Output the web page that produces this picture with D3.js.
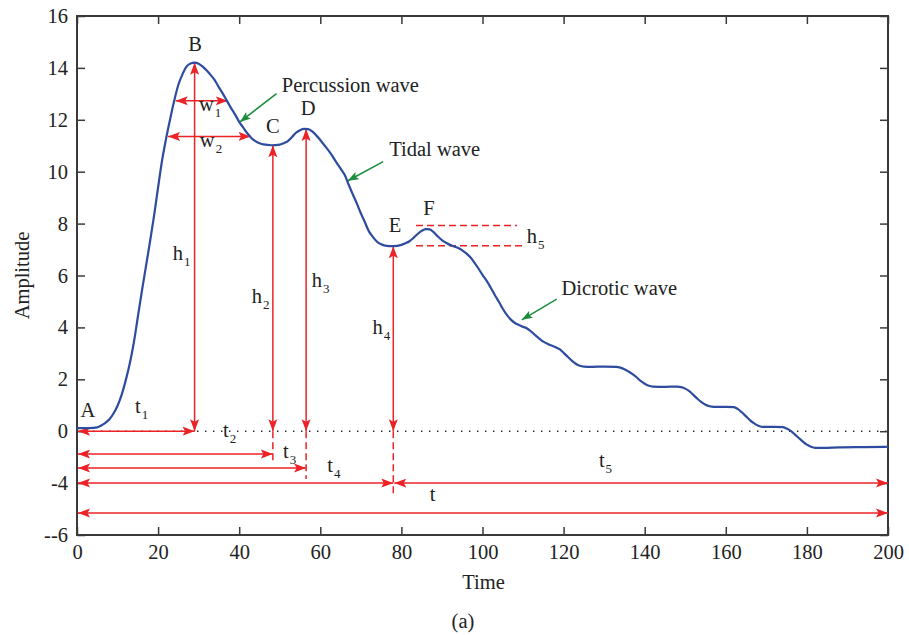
<!DOCTYPE html>
<html>
<head>
<meta charset="utf-8">
<script src="https://cdn.jsdelivr.net/npm/d3@7"></script>
<style>
  html, body { margin: 0; padding: 0; background: #fff; }
  svg { display: block; }
</style>
</head>
<body>
<svg id="chart" width="909" height="635"></svg>
<script>
// pulse wave samples
const timeValues = [0, 3, 5, 6, 7, 8, 9, 10, 11, 12, 13, 14, 15, 16, 17, 18, 19, 20, 21, 22, 23, 24, 25, 26, 27, 28, 29, 30, 31, 32, 33, 34, 35, 36, 37, 38, 39, 40, 41, 42, 43, 44, 45, 46, 48, 50, 51, 52, 53, 54, 55, 56, 57, 58, 59, 60, 61, 62, 63, 64, 65, 66, 67, 68, 69, 70, 71, 72, 73, 74, 75, 76, 78, 80, 81, 82, 83, 84, 85, 86, 87, 88, 89, 90, 91, 92, 93, 94, 95, 96, 97, 98, 99, 100, 101, 102, 103, 104, 105, 106, 107, 108, 109, 110, 111, 112, 113, 114, 115, 116, 117, 118, 119, 120, 121, 122, 123, 124, 125, 127, 130, 133, 134, 135, 136, 137, 138, 139, 140, 141, 142, 145, 148, 149, 150, 151, 152, 153, 154, 155, 156, 157, 160, 162, 163, 164, 165, 166, 167, 168, 169, 172, 174, 175, 176, 177, 178, 179, 180, 181, 182, 184, 188, 194, 200];
const amplitudeValues = [0.12, 0.12, 0.15, 0.22, 0.32, 0.46, 0.68, 0.98, 1.4, 1.95, 2.6, 3.4, 4.4, 5.4, 6.35, 7.3, 8.3, 9.4, 10.45, 11.3, 12.05, 12.75, 13.35, 13.75, 14.05, 14.17, 14.2, 14.16, 14.05, 13.9, 13.72, 13.52, 13.25, 13.0, 12.72, 12.45, 12.2, 11.92, 11.7, 11.48, 11.3, 11.18, 11.1, 11.05, 11.02, 11.04, 11.1, 11.18, 11.33, 11.5, 11.6, 11.65, 11.64, 11.55, 11.4, 11.22, 11.02, 10.82, 10.6, 10.35, 10.12, 9.88, 9.5, 9.13, 8.78, 8.4, 8.05, 7.7, 7.48, 7.3, 7.2, 7.15, 7.13, 7.18, 7.24, 7.32, 7.45, 7.6, 7.72, 7.79, 7.78, 7.66, 7.5, 7.36, 7.26, 7.18, 7.12, 7.06, 6.97, 6.85, 6.7, 6.5, 6.27, 6.02, 5.8, 5.54, 5.26, 5.0, 4.72, 4.48, 4.3, 4.17, 4.09, 4.02, 3.96, 3.84, 3.7, 3.57, 3.45, 3.37, 3.3, 3.24, 3.16, 3.02, 2.87, 2.72, 2.6, 2.52, 2.49, 2.48, 2.49, 2.48, 2.45, 2.39, 2.3, 2.2, 2.08, 1.94, 1.83, 1.75, 1.72, 1.71, 1.72, 1.7, 1.64, 1.54, 1.4, 1.25, 1.12, 1.02, 0.96, 0.94, 0.94, 0.93, 0.85, 0.72, 0.57, 0.42, 0.3, 0.21, 0.17, 0.17, 0.16, 0.1, 0.01, -0.12, -0.26, -0.4, -0.52, -0.6, -0.64, -0.64, -0.62, -0.61, -0.6];

const xTickValues = [0, 20, 40, 60, 80, 100, 120, 140, 160, 180, 200];
const yTickValues = [-4, -2, 0, 2, 4, 6, 8, 10, 12, 14, 16];
const yTickLabels = ["--6", "-4", "0", "2", "4", "6", "8", "10", "12", "14", "16"];

// feature points of the wave
const landmarks = [
  { name: "A", t: 0, a: 0.12, lx: 2.7, ly: 0.55 },
  { name: "B", t: 29, a: 14.2, lx: 29.1, ly: 14.65 },
  { name: "C", t: 48.3, a: 11.02, lx: 48.3, ly: 11.49 },
  { name: "D", t: 56.5, a: 11.65, lx: 57, ly: 12.18 },
  { name: "E", t: 78, a: 7.13, lx: 78.4, ly: 7.68 },
  { name: "F", t: 86.5, a: 7.79, lx: 86.8, ly: 8.33 }
];

// vertical height arrows (from zero up to a landmark) and their dashed drop lines
const heightArrows = [
  { t: 29, top: 14.2, drop: null },
  { t: 48.3, top: 11.02, drop: -1.23 },
  { t: 56.5, top: 11.65, drop: -1.84 },
  { t: 78, top: 7.13, drop: -2.54 }
];

// horizontal double arrows: time spans and widths
const spanArrows = [
  { t0: 0, t1: 29, a: 0 },
  { t0: 0, t1: 48.3, a: -0.88 },
  { t0: 0, t1: 56.5, a: -1.42 },
  { t0: 0, t1: 78, a: -2.0 },
  { t0: 78, t1: 200, a: -2.0 },
  { t0: 0, t1: 200, a: -3.15 },
  { t0: 24.1, t1: 37.2, a: 12.73 },
  { t0: 22.2, t1: 42.8, a: 11.36 }
];

const h5Lines = [
  { t0: 83.6, t1: 108.5, a: 7.93 },
  { t0: 83.6, t1: 110, a: 7.15 }
];

// symbol labels with subscripts
const symbolLabels = [
  { base: "t", sub: "1", t: 14.3, a: 0.7 },
  { base: "t", sub: "2", t: 36, a: -0.21 },
  { base: "t", sub: "3", t: 50.8, a: -1.03 },
  { base: "t", sub: "4", t: 61.7, a: -1.56 },
  { base: "t", sub: "5", t: 128.7, a: -1.37 },
  { base: "t", sub: "", t: 87, a: -2.68 },
  { base: "w", sub: "1", t: 30.1, a: 12.34 },
  { base: "w", sub: "2", t: 30.3, a: 10.95 },
  { base: "h", sub: "1", t: 23.6, a: 6.6 },
  { base: "h", sub: "2", t: 43.1, a: 4.95 },
  { base: "h", sub: "3", t: 57.9, a: 5.57 },
  { base: "h", sub: "4", t: 72.9, a: 3.75 },
  { base: "h", sub: "5", t: 110.9, a: 7.25 }
];

const callouts = [
  { text: "Percussion wave", t: 50.5, a: 13.08, fromT: 49.2, fromA: 13.01, toT: 40.2, toA: 11.92 },
  { text: "Tidal wave", t: 77, a: 10.6, fromT: 75.5, fromA: 10.39, toT: 66.8, toA: 9.65 },
  { text: "Dicrotic wave", t: 119.5, a: 5.25, fromT: 118.3, fromA: 5.09, toT: 109.7, toA: 4.29 }
];

const width = 909;
const height = 635;
const margin = { top: 16, right: 21, bottom: 100, left: 77 };
const font = "'Liberation Serif', 'Times New Roman', serif";
const fontSize = 20.5;
const red = "#ec2227";
const green = "#1a8c3c";
const blue = "#2d4c9f";

const svg = d3.select("#chart");
const x = d3.scaleLinear().domain([0, 200]).range([margin.left, width - margin.right]);
const y = d3.scaleLinear().domain([-4, 16]).range([height - margin.bottom, margin.top]);

const defs = svg.append("defs");
defs.append("marker")
  .attr("id", "redHead")
  .attr("viewBox", "0 -5 12 10")
  .attr("refX", 12)
  .attr("refY", 0)
  .attr("markerWidth", 12)
  .attr("markerHeight", 10)
  .attr("markerUnits", "userSpaceOnUse")
  .attr("orient", "auto-start-reverse")
  .append("path")
  .attr("d", "M0,-4.5L12,0L0,4.5L2.5,0Z")
  .attr("fill", red);
defs.append("marker")
  .attr("id", "greenHead")
  .attr("viewBox", "0 -5 12 10")
  .attr("refX", 12)
  .attr("refY", 0)
  .attr("markerWidth", 11)
  .attr("markerHeight", 9)
  .attr("markerUnits", "userSpaceOnUse")
  .attr("orient", "auto")
  .append("path")
  .attr("d", "M0,-4.5L12,0L0,4.5L2.5,0Z")
  .attr("fill", green);

// zero reference
svg.append("line")
  .attr("x1", x(0)).attr("x2", x(200))
  .attr("y1", y(0)).attr("y2", y(0))
  .attr("stroke", "#222")
  .attr("stroke-width", 1.4)
  .attr("stroke-dasharray", "1.4,6.6");

// axes with inward ticks
const axisColor = "#3a3a3a";
function styleAxis(g) {
  g.select(".domain").remove();
  g.selectAll(".tick line").attr("stroke", axisColor).attr("stroke-width", 1.5);
  g.selectAll(".tick text")
    .attr("fill", "#222")
    .attr("font-family", font)
    .attr("font-size", fontSize);
}

svg.append("g")
  .attr("transform", `translate(0,${y(-4)})`)
  .call(d3.axisBottom(x).tickValues(xTickValues).tickSize(-8).tickSizeOuter(0).tickPadding(9))
  .call(styleAxis);
svg.append("g")
  .attr("transform", `translate(0,${y(16)})`)
  .call(d3.axisTop(x).tickValues(xTickValues).tickSize(-8).tickSizeOuter(0).tickFormat(""))
  .call(styleAxis);
svg.append("g")
  .attr("transform", `translate(${x(0)},0)`)
  .call(d3.axisLeft(y).tickValues(yTickValues).tickSize(-8).tickSizeOuter(0).tickPadding(9)
    .tickFormat((d, i) => yTickLabels[i]))
  .call(styleAxis);
svg.append("g")
  .attr("transform", `translate(${x(200)},0)`)
  .call(d3.axisRight(y).tickValues(yTickValues).tickSize(-8).tickSizeOuter(0).tickFormat(""))
  .call(styleAxis);

svg.append("rect")
  .attr("x", x(0)).attr("y", y(16))
  .attr("width", x(200) - x(0)).attr("height", y(-4) - y(16))
  .attr("fill", "none")
  .attr("stroke", axisColor)
  .attr("stroke-width", 2);

// red annotation arrows
const annot = svg.append("g");
annot.selectAll("line.drop")
  .data(heightArrows.filter((d) => d.drop !== null))
  .join("line")
  .attr("class", "drop")
  .attr("x1", (d) => x(d.t)).attr("x2", (d) => x(d.t))
  .attr("y1", y(0)).attr("y2", (d) => y(d.drop))
  .attr("stroke", red)
  .attr("stroke-width", 1.5)
  .attr("stroke-dasharray", "7,4");

annot.selectAll("line.height")
  .data(heightArrows)
  .join("line")
  .attr("class", "height")
  .attr("x1", (d) => x(d.t)).attr("x2", (d) => x(d.t))
  .attr("y1", y(0)).attr("y2", (d) => y(d.top))
  .attr("stroke", red)
  .attr("stroke-width", 1.5)
  .attr("marker-start", "url(#redHead)")
  .attr("marker-end", "url(#redHead)");

annot.selectAll("line.span")
  .data(spanArrows)
  .join("line")
  .attr("class", "span")
  .attr("x1", (d) => x(d.t0) + 1).attr("x2", (d) => x(d.t1))
  .attr("y1", (d) => y(d.a)).attr("y2", (d) => y(d.a))
  .attr("stroke", red)
  .attr("stroke-width", 1.5)
  .attr("marker-start", "url(#redHead)")
  .attr("marker-end", "url(#redHead)");

annot.selectAll("line.h5")
  .data(h5Lines)
  .join("line")
  .attr("class", "h5")
  .attr("x1", (d) => x(d.t0)).attr("x2", (d) => x(d.t1))
  .attr("y1", (d) => y(d.a)).attr("y2", (d) => y(d.a))
  .attr("stroke", red)
  .attr("stroke-width", 1.5)
  .attr("stroke-dasharray", "7,4");

// the wave itself
const wave = timeValues.map((t, i) => [t, amplitudeValues[i]]);
svg.append("path")
  .datum(wave)
  .attr("fill", "none")
  .attr("stroke", blue)
  .attr("stroke-width", 2.2)
  .attr("stroke-linejoin", "round")
  .attr("d", d3.line().x((d) => x(d[0])).y((d) => y(d[1])).curve(d3.curveMonotoneX));

// green callouts
svg.selectAll("line.callout")
  .data(callouts)
  .join("line")
  .attr("class", "callout")
  .attr("x1", (d) => x(d.fromT)).attr("y1", (d) => y(d.fromA))
  .attr("x2", (d) => x(d.toT)).attr("y2", (d) => y(d.toA))
  .attr("stroke", green)
  .attr("stroke-width", 1.5)
  .attr("marker-end", "url(#greenHead)");

svg.selectAll("text.callout")
  .data(callouts)
  .join("text")
  .attr("class", "callout")
  .attr("x", (d) => x(d.t)).attr("y", (d) => y(d.a))
  .attr("font-family", font)
  .attr("font-size", fontSize)
  .attr("fill", "#222")
  .text((d) => d.text);

// landmark letters
svg.selectAll("text.landmark")
  .data(landmarks)
  .join("text")
  .attr("class", "landmark")
  .attr("x", (d) => x(d.lx)).attr("y", (d) => y(d.ly))
  .attr("text-anchor", "middle")
  .attr("font-family", font)
  .attr("font-size", fontSize)
  .attr("fill", "#222")
  .text((d) => d.name);

// subscripted symbols
const symbols = svg.selectAll("text.symbol")
  .data(symbolLabels)
  .join("text")
  .attr("class", "symbol")
  .attr("x", (d) => x(d.t)).attr("y", (d) => y(d.a))
  .attr("font-family", font)
  .attr("font-size", fontSize)
  .attr("fill", "#222");
symbols.append("tspan").text((d) => d.base);
symbols.append("tspan")
  .attr("font-size", 13)
  .attr("dx", 1)
  .attr("dy", 6)
  .text((d) => d.sub);

// axis titles
svg.append("text")
  .attr("x", (x(0) + x(200)) / 2 + 1)
  .attr("y", 589)
  .attr("text-anchor", "middle")
  .attr("font-family", font)
  .attr("font-size", fontSize)
  .attr("fill", "#222")
  .text("Time");
svg.append("text")
  .attr("transform", `translate(29,${(y(16) + y(-4)) / 2}) rotate(-90)`)
  .attr("text-anchor", "middle")
  .attr("font-family", font)
  .attr("font-size", fontSize)
  .attr("fill", "#222")
  .text("Amplitude");
svg.append("text")
  .attr("x", 463)
  .attr("y", 628)
  .attr("text-anchor", "middle")
  .attr("font-family", font)
  .attr("font-size", fontSize)
  .attr("fill", "#222")
  .text("(a)");
</script>
</body>
</html>
